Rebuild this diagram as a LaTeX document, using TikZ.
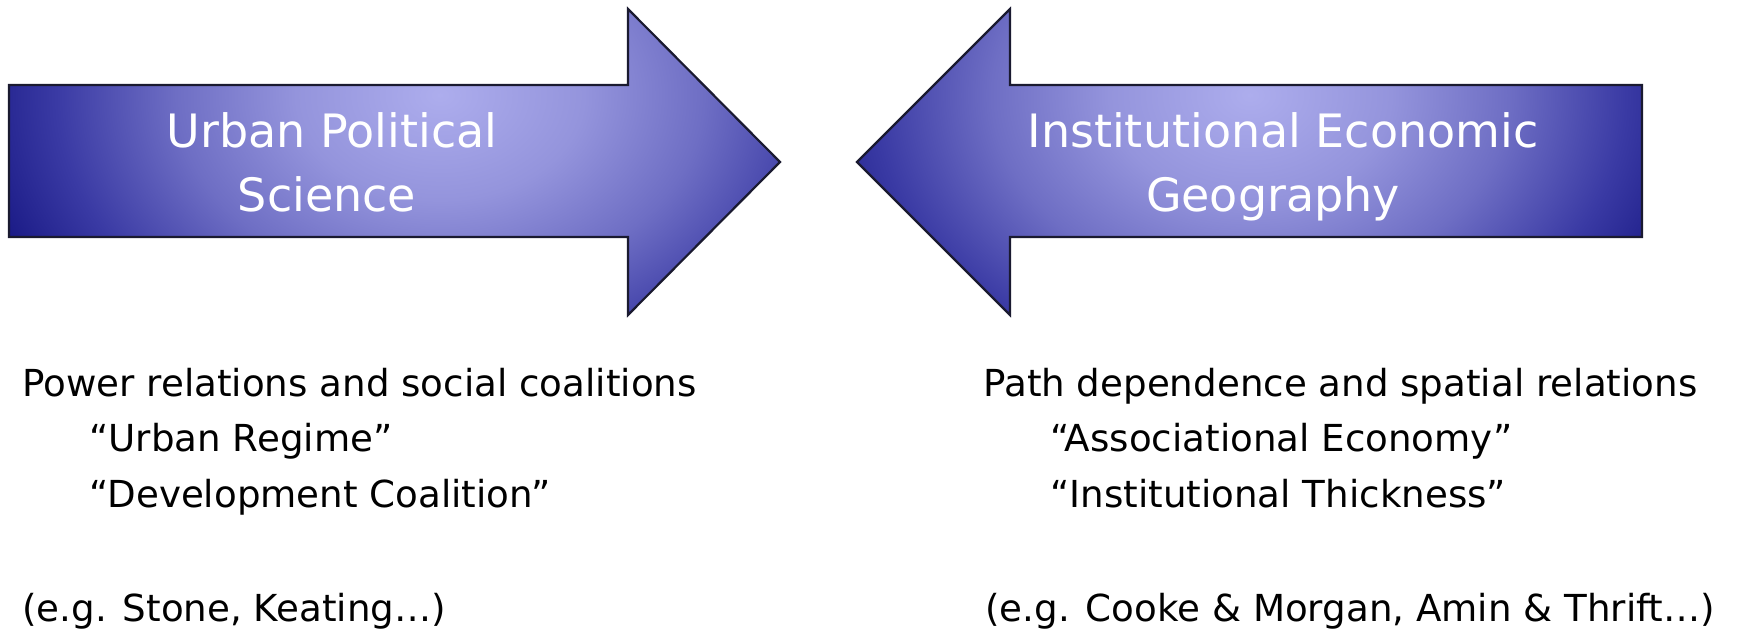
\documentclass[tikz,border=0pt]{standalone}
\usepackage{fontspec}
\setmainfont{DejaVu Sans}
\definecolor{sc0}{HTML}{ADADED}
\definecolor{sc1}{HTML}{9494DC}
\definecolor{sc2}{HTML}{6E6EC4}
\definecolor{sc3}{HTML}{3A3AA4}
\definecolor{sc4}{HTML}{181884}
\definecolor{edgecol}{HTML}{1A1A30}
\pgfdeclareradialshading{bluespot}{\pgfpoint{0bp}{0bp}}{color(0bp)=(sc0); color(7.5bp)=(sc1); color(13.75bp)=(sc2); color(20bp)=(sc3); color(25bp)=(sc4); color(50bp)=(sc4)}
\tikzset{
  arrowtitle/.style={text=white, font=\fontsize{23}{28}\selectfont, anchor=base, inner sep=0pt},
  bodytext/.style={text=black, font=\fontsize{18.6}{22}\selectfont, anchor=base west, inner sep=0pt},
  arrowedge/.style={draw=edgecol, line width=1.1pt, line join=miter},
}
\begin{document}
\begin{tikzpicture}[x=0.5pt, y=-0.5pt]
\useasboundingbox (0,0) rectangle (1737,630);
% left arrow
\begin{scope}
  \clip (9,85) -- (628,85) -- (628,9) -- (780,162) -- (628,315) -- (628,237) -- (9,237) -- cycle;
  \fill[sc4] (0,0) rectangle (800,330);
  \shade[shading=bluespot] (440,95) ellipse (480 and 350);
\end{scope}
\draw[arrowedge] (9,85) -- (628,85) -- (628,9) -- (780,162) -- (628,315) -- (628,237) -- (9,237) -- cycle;
% right arrow
\begin{scope}
  \clip (1642,85) -- (1010,85) -- (1010,9) -- (857,162) -- (1010,315) -- (1010,237) -- (1642,237) -- cycle;
  \fill[sc4] (840,0) rectangle (1660,330);
  \shade[shading=bluespot] (1250,95) ellipse (470 and 350);
\end{scope}
\draw[arrowedge] (1642,85) -- (1010,85) -- (1010,9) -- (857,162) -- (1010,315) -- (1010,237) -- (1642,237) -- cycle;
% arrow titles
\node[arrowtitle] (ups1) at (332,148) {Urban Political};
\node[arrowtitle] (ups2) at (327,212) {Science};
\node[arrowtitle] (ieg1) at (1283,148) {Institutional Economic};
\node[arrowtitle] (ieg2) at (1273,212) {Geography};
% left text
\node[bodytext] (l1) at (22,397) {Power relations and social coalitions};
\node[bodytext] (l2) at (89,452) {“Urban Regime”};
\node[bodytext] (l3) at (89,508) {“Development Coalition”};
\node[bodytext] (l4) at (22,622) {(e.g. Stone, Keating…)};
% right text
\node[bodytext] (r1) at (983,397) {Path dependence and spatial relations};
\node[bodytext] (r2) at (1050,452) {“Associational Economy”};
\node[bodytext] (r3) at (1050,508) {“Institutional Thickness”};
\node[bodytext] (r4) at (985,622) {(e.g. Cooke \& Morgan, Amin \& Thrift…)};
\end{tikzpicture}
\end{document}
